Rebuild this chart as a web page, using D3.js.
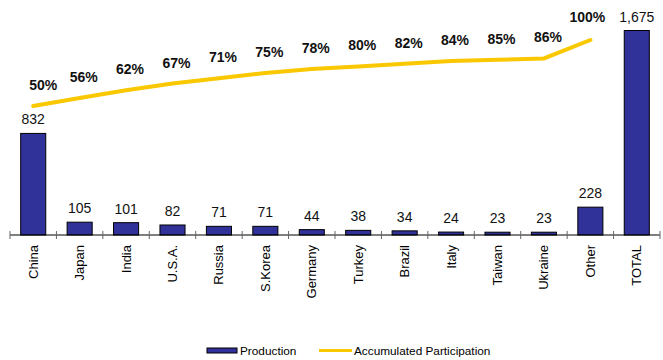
<!DOCTYPE html>
<html><head><meta charset="utf-8">
<script src="https://cdn.jsdelivr.net/npm/d3@7"></script>
<style>body{margin:0;background:#fff}svg{display:block}text{font-family:"Liberation Sans",Arial,sans-serif}</style>
</head><body><svg id="c" width="663" height="360"></svg>
<script>
const categories = ["China","Japan","India","U.S.A.","Russia","S.Korea","Germany","Turkey","Brazil","Italy","Taiwan","Ukraine","Other","TOTAL"];
const production = [832,105,101,82,71,71,44,38,34,24,23,23,228,1675];
const lineCategories = ["China","Japan","India","U.S.A.","Russia","S.Korea","Germany","Turkey","Brazil","Italy","Taiwan","Ukraine","Other"];
const accumulated = [50,56,62,67,71,75,78,80,82,84,85,86,100];
const accLabels = ["50%","56%","62%","67%","71%","75%","78%","80%","82%","84%","85%","86%","100%"];

const svg = d3.select("#c");
const x = d3.scaleBand().domain(categories).range([10,660]).paddingInner(0.46).paddingOuter(0.23);
const y = d3.scaleLinear().domain([0,1675]).range([235,30.5]);
const y2 = d3.scaleLinear().domain([0,100]).range([172,40]);
const cx = d => x(d) + x.bandwidth()/2;
const barColor = "#31319A";

// bars
svg.append("g").selectAll("rect").data(categories).join("rect")
  .attr("x", d => x(d)).attr("width", x.bandwidth())
  .attr("y", (d,i) => y(production[i])).attr("height", (d,i) => y(0) - y(production[i]))
  .attr("fill",barColor).attr("stroke","#000").attr("stroke-width",1);

// value labels
svg.append("g").selectAll("text").data(categories).join("text")
  .attr("x", d => cx(d)).attr("y", (d,i) => y(production[i]) - 9)
  .attr("text-anchor","middle").attr("font-size",14).attr("fill","#111")
  .text((d,i) => d3.format(",")(production[i]));

// axis
const ax = svg.append("g");
ax.append("line").attr("x1",10).attr("x2",660).attr("y1",235).attr("y2",235).attr("stroke","#000").attr("stroke-width",1.2);
const bounds = d3.range(categories.length+1).map(i => 10 + i*x.step());
ax.selectAll("line.t").data(bounds).join("line").attr("class","t")
  .attr("x1", d => d).attr("x2", d => d).attr("y1",231).attr("y2",239)
  .attr("stroke","#666").attr("stroke-width",1);
ax.selectAll("text").data(categories).join("text")
  .attr("transform", d => `translate(${cx(d)+4.5},245) rotate(-90)`)
  .attr("text-anchor","end").attr("font-size",13).attr("fill","#000")
  .text(d => d);

// line
const line = d3.line().x((d,i) => cx(lineCategories[i])).y(d => y2(d));
svg.append("path").datum(accumulated).attr("d", line)
  .attr("fill","none").attr("stroke","#F9C800").attr("stroke-width",4).attr("stroke-linecap","round");

svg.append("g").selectAll("text").data(accumulated).join("text")
  .attr("x", (d,i) => cx(lineCategories[i]) + (i===0?10:i===12?-3:4))
  .attr("y", (d,i) => y2(d) - (i===12?18:16))
  .attr("text-anchor","middle").attr("font-size",14).attr("font-weight","bold").attr("fill","#111")
  .text((d,i) => accLabels[i]);

// legend
const lg = svg.append("g");
lg.append("rect").attr("x",207).attr("y",348).attr("width",30).attr("height",5).attr("fill",barColor).attr("stroke","#000").attr("stroke-width",1);
lg.append("text").attr("x",240).attr("y",354.5).attr("font-size",11.8).text("Production");
lg.append("line").attr("x1",319).attr("x2",352).attr("y1",350.5).attr("y2",350.5).attr("stroke","#F9C800").attr("stroke-width",3);
lg.append("text").attr("x",354).attr("y",354.5).attr("font-size",11.8).text("Accumulated Participation");
</script></body></html>
